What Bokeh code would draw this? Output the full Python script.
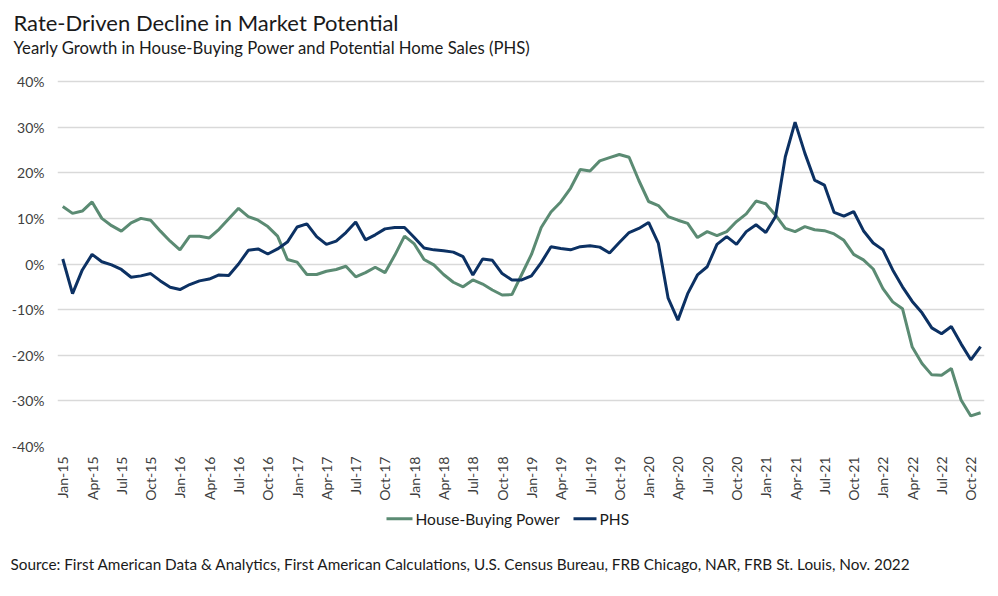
import math
from bokeh.plotting import figure
from bokeh.layouts import column
from bokeh.models import Range1d, FixedTicker, PrintfTickFormatter, Title
from bokeh.core.properties import value
from bokeh.embed import file_html
from bokeh.resources import INLINE

# ---- data (monthly, Jan-15 .. Nov-22), yearly growth in % ----
month_names = ["Jan", "Feb", "Mar", "Apr", "May", "Jun", "Jul", "Aug", "Sep", "Oct", "Nov", "Dec"]
months = [f"{m}-{y}" for y in range(15, 23) for m in month_names][:95]

house_buying_power = [
    12.6, 11.1, 11.6, 13.6, 10.0, 8.4, 7.2, 9.0, 10.0, 9.6, 7.2, 5.0,
    3.1, 6.1, 6.1, 5.7, 7.6, 9.9, 12.2, 10.4, 9.6, 8.2, 6.1, 1.0,
    0.4, -2.3, -2.3, -1.6, -1.2, -0.5, -2.8, -1.9, -0.7, -1.9, 1.9, 6.1,
    4.4, 1.0, -0.2, -2.3, -4.0, -5.0, -3.5, -4.4, -5.7, -6.8, -6.7, -2.3,
    2.1, 8.0, 11.4, 13.6, 16.6, 20.7, 20.4, 22.6, 23.3, 24.0, 23.4, 18.3,
    13.7, 12.8, 10.4, 9.6, 8.9, 5.8, 7.1, 6.2, 7.1, 9.3, 11.0, 13.8,
    13.2, 10.7, 7.8, 7.1, 8.2, 7.5, 7.3, 6.6, 5.2, 2.1, 0.9, -1.1,
    -5.4, -8.3, -9.8, -18.2, -21.8, -24.3, -24.4, -22.9, -29.8, -33.3, -32.6,
]

phs = [
    1.1, -6.5, -1.3, 2.1, 0.5, -0.2, -1.2, -2.9, -2.6, -2.1, -3.7, -5.1,
    -5.6, -4.5, -3.7, -3.3, -2.4, -2.5, 0.0, 3.0, 3.3, 2.2, 3.3, 4.8,
    8.1, 8.8, 6.0, 4.3, 5.0, 6.9, 9.2, 5.3, 6.4, 7.7, 8.0, 8.0,
    5.8, 3.5, 3.1, 2.9, 2.6, 1.6, -2.4, 1.1, 0.8, -2.1, -3.5, -3.5,
    -2.6, 0.3, 3.8, 3.4, 3.1, 3.8, 4.0, 3.7, 2.4, 4.7, 6.9, 7.8,
    9.1, 4.5, -7.5, -12.3, -6.5, -2.4, -0.6, 4.3, 6.0, 4.3, 7.1, 8.6,
    6.9, 10.4, 23.5, 31.1, 24.3, 18.4, 17.3, 11.3, 10.5, 11.5, 7.3, 4.6,
    3.1, -1.3, -5.0, -8.2, -10.7, -14.0, -15.3, -13.7, -17.5, -21.0, -18.1,
]

series_names = ["House-Buying Power", "PHS"]

tick_labels = [
    "Jan-15", "Apr-15", "Jul-15", "Oct-15", "Jan-16", "Apr-16", "Jul-16", "Oct-16",
    "Jan-17", "Apr-17", "Jul-17", "Oct-17", "Jan-18", "Apr-18", "Jul-18", "Oct-18",
    "Jan-19", "Apr-19", "Jul-19", "Oct-19", "Jan-20", "Apr-20", "Jul-20", "Oct-20",
    "Jan-21", "Apr-21", "Jul-21", "Oct-21", "Jan-22", "Apr-22", "Jul-22", "Oct-22",
]
y_ticks = [-40, -30, -20, -10, 0, 10, 20, 30, 40]

TITLE = "Rate-Driven Decline in Market Potential"
SUBTITLE = "Yearly Growth in House-Buying Power and Potential Home Sales (PHS)"
SOURCE = ("Source: First American Data & Analytics, First American Calculations, "
          "U.S. Census Bureau, FRB Chicago, NAR, FRB St. Louis, Nov. 2022")

GREEN = "#5b8b73"
NAVY = "#0c3163"
FONT = "Lato"
TEXT = "#1a1a1a"

W, H = 998, 596
MAIN_H = 505
FRAME_LEFT, FRAME_RIGHT, FRAME_BOTTOM = 57, 984, 446
GRID_TOP = 81          # canvas y of the 40% gridline
FRAME_TOP = 57         # frame extends a little above the top gridline (blank space)
px_per_unit = (FRAME_BOTTOM - GRID_TOP) / (y_ticks[-1] - y_ticks[0])
y_top = y_ticks[-1] + (GRID_TOP - FRAME_TOP) / px_per_unit

xs = list(range(len(months)))
tick_pos = [months.index(t) for t in tick_labels]

# ---------------- main chart ----------------
p = figure(width=W, height=MAIN_H, output_backend="svg", toolbar_location=None, title=None,
           x_range=Range1d(-0.54, len(months) - 0.6), y_range=Range1d(y_ticks[0], y_top),
           min_border_left=FRAME_LEFT, min_border_right=W - FRAME_RIGHT,
           min_border_top=FRAME_TOP, min_border_bottom=MAIN_H - FRAME_BOTTOM)
p.outline_line_color = None
p.background_fill_color = "white"
p.border_fill_color = "white"

p.xgrid.visible = False
p.ygrid.grid_line_color = "#d9d9d9"
p.ygrid.grid_line_width = 1.5

p.yaxis.ticker = FixedTicker(ticks=y_ticks)
p.yaxis.formatter = PrintfTickFormatter(format="%d%%")
p.xaxis.ticker = FixedTicker(ticks=tick_pos)
p.xaxis.major_label_overrides = {pos: lab for pos, lab in zip(tick_pos, tick_labels)}
p.xaxis.major_label_orientation = math.pi / 2
for ax in (p.xaxis, p.yaxis):
    ax.axis_line_color = None
    ax.major_tick_line_color = None
    ax.minor_tick_line_color = None
    ax.major_tick_out = 0
    ax.major_tick_in = 0
    ax.major_label_text_font = FONT
    ax.major_label_text_font_size = "14px"
    ax.major_label_text_color = "#404040"
p.yaxis.major_label_standoff = 13
p.xaxis.major_label_standoff = 10

p.line(xs, house_buying_power, line_color=GREEN, line_width=3)
p.line(xs, phs, line_color=NAVY, line_width=3)

# titles (later additions sit further from the frame)
p.add_layout(Title(text=SUBTITLE, align="left", offset=13 - FRAME_LEFT, standoff=0,
                   text_font=FONT, text_font_size="16.7px", text_font_style="normal",
                   text_color=TEXT), "above")
p.add_layout(Title(text=TITLE, align="left", offset=13 - FRAME_LEFT, standoff=0,
                   text_font=FONT, text_font_size="22px", text_font_style="normal",
                   text_color=TEXT), "above")

# ---------------- legend + source strip ----------------
FOOT_H = H - MAIN_H
f = figure(width=W, height=FOOT_H, output_backend="svg", toolbar_location=None, title=None,
           x_range=Range1d(FRAME_LEFT, FRAME_RIGHT), y_range=Range1d(0, 1),
           x_axis_location=None, y_axis_location=None,
           min_border_left=FRAME_LEFT, min_border_right=W - FRAME_RIGHT,
           min_border_top=0, min_border_bottom=0)
f.outline_line_color = None
f.xgrid.visible = False
f.ygrid.visible = False
f.background_fill_color = "white"
f.border_fill_color = "white"

f.segment(x0=[386, 573], y0=[0.45, 0.45], x1=[412, 596], y1=[0.45, 0.45],
          line_color=[GREEN, NAVY], line_width=3)
f.text(x=[415, 599], y=[0.45, 0.45], text=series_names,
       text_font=value(FONT), text_font_size="15.5px", text_color=TEXT,
       text_baseline="middle", text_align="left")

f.add_layout(Title(text=SOURCE, align="left", offset=10 - FRAME_LEFT, standoff=47,
                   text_font=FONT, text_font_size="15.3px", text_font_style="normal",
                   text_color=TEXT), "below")

layout = column(p, f, spacing=0)
open("out.html", "w").write(file_html(layout, INLINE))
